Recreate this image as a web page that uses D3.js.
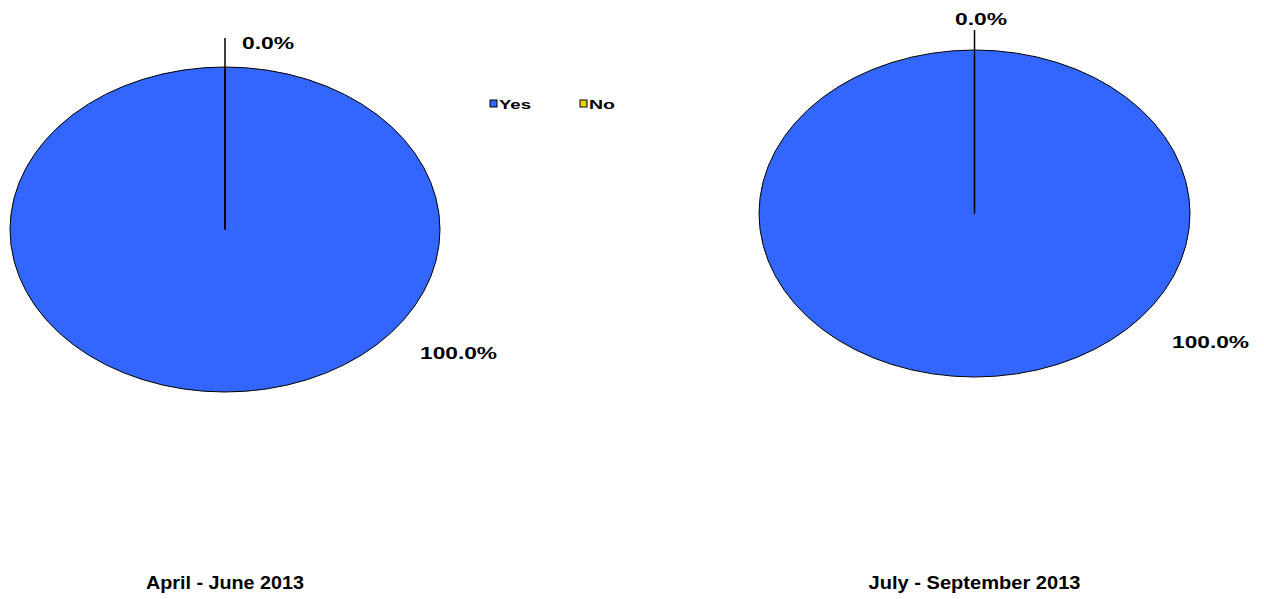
<!DOCTYPE html>
<html>
<head>
<meta charset="utf-8">
<script src="https://cdn.jsdelivr.net/npm/d3@7"></script>
<style>
  html, body { margin: 0; padding: 0; background: #fff; }
  svg text { font-family: "Liberation Sans", Arial, sans-serif; font-weight: bold; fill: #000; }
</style>
</head>
<body>
<svg id="chart"></svg>
<script>
// data
const periods = ["April - June 2013", "July - September 2013"];
const categories = ["Yes", "No"];
const yesValues = [100, 100];
const noValues = [0, 0];

const colors = { Yes: "#3366ff", No: "#ffcc00" };

const width = 1264, height = 599;

// one layout entry per pie (positions only)
const panels = [
  { cx: 225, cy: 229.5, rx: 215, ry: 162.5, leadTop: 38,
    zero: { x: 242, y: 49, w: 52 }, full: { x: 420, y: 359, w: 77 },
    titleY: 589, titleW: 158 },
  { cx: 974.5, cy: 213.5, rx: 215.5, ry: 163.5, leadTop: 30,
    zero: { x: 955, y: 25, w: 52 }, full: { x: 1172, y: 348, w: 77 },
    titleY: 589, titleW: 212 }
];

const svg = d3.select("#chart")
  .attr("width", width)
  .attr("height", height)
  .attr("viewBox", [0, 0, width, height]);

const pie = d3.pie().sort(null).value(d => d.value);
const arc = d3.arc().innerRadius(0).outerRadius(1);
const fmt = d3.format(".1f");

periods.forEach((period, i) => {
  const p = panels[i];
  const rows = categories.map((c, j) => ({
    cat: c,
    value: j === 0 ? yesValues[i] : noValues[i]
  }));
  const total = d3.sum(rows, d => d.value);
  const arcs = pie(rows);

  const g = svg.append("g")
    .attr("transform", `translate(${p.cx},${p.cy}) scale(${p.rx},${p.ry})`);

  g.selectAll("path")
    .data(arcs)
    .join("path")
    .attr("d", arc)
    .attr("fill", d => colors[d.data.cat])
    .attr("stroke", "#000")
    .attr("stroke-width", 1)
    .attr("vector-effect", "non-scaling-stroke");

  // slice edge at 12 o'clock runs up to the 0.0% label
  svg.append("line")
    .attr("x1", p.cx).attr("x2", p.cx)
    .attr("y1", p.cy).attr("y2", p.leadTop)
    .attr("stroke", "#000")
    .attr("stroke-width", 1.5);

  arcs.forEach(a => {
    const pct = total ? a.data.value / total * 100 : 0;
    const pos = pct === 0 ? p.zero : p.full;
    svg.append("text")
      .attr("x", pos.x)
      .attr("y", pos.y)
      .attr("font-size", 16)
      .attr("textLength", pos.w)
      .attr("lengthAdjust", "spacingAndGlyphs")
      .text(fmt(pct) + "%");
  });

  svg.append("text")
    .attr("x", p.cx - p.titleW / 2)
    .attr("y", p.titleY)
    .attr("font-size", 18)
    .attr("textLength", p.titleW)
    .attr("lengthAdjust", "spacingAndGlyphs")
    .text(period);
});

// legend
const legend = svg.append("g").attr("transform", "translate(490,100)");
const legX = d3.scalePoint().domain(categories).range([0, 90]);
const item = legend.selectAll("g")
  .data(categories)
  .join("g")
  .attr("transform", d => `translate(${legX(d)},0)`);
item.append("rect")
  .attr("width", 7).attr("height", 7)
  .attr("fill", d => colors[d])
  .attr("stroke", "#000")
  .attr("stroke-width", 1);
item.append("text")
  .attr("x", 9)
  .attr("y", 8.5)
  .attr("font-size", 12)
  .attr("textLength", d => d === "Yes" ? 32 : 26)
  .attr("lengthAdjust", "spacingAndGlyphs")
  .text(d => d);
</script>
</body>
</html>
